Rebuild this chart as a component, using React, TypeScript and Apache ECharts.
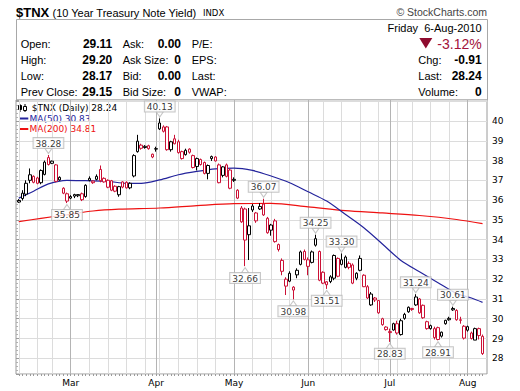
import React, { useEffect, useRef } from "react";
import * as echarts from "echarts";

// Trading days shown (month/day, 2010)
const dates = [
  "2/8","2/9","2/10","2/11","2/12","2/16","2/17","2/18","2/19","2/22","2/23","2/24","2/25","2/26",
  "3/1","3/2","3/3","3/4","3/5","3/8","3/9","3/10","3/11","3/12","3/15","3/16","3/17","3/18","3/19","3/22","3/23","3/24","3/25","3/26","3/29","3/30","3/31",
  "4/1","4/5","4/6","4/7","4/8","4/9","4/12","4/13","4/14","4/15","4/16","4/19","4/20","4/21","4/22","4/23","4/26","4/27","4/28","4/29","4/30",
  "5/3","5/4","5/5","5/6","5/7","5/10","5/11","5/12","5/13","5/14","5/17","5/18","5/19","5/20","5/21","5/24","5/25","5/26","5/27","5/28",
  "6/1","6/2","6/3","6/4","6/7","6/8","6/9","6/10","6/11","6/14","6/15","6/16","6/17","6/18","6/21","6/22","6/23","6/24","6/25","6/28","6/29","6/30",
  "7/1","7/2","7/6","7/7","7/8","7/9","7/12","7/13","7/14","7/15","7/16","7/19","7/20","7/21","7/22","7/23","7/26","7/27","7/28","7/29","7/30",
  "8/2","8/3","8/4","8/5","8/6",
];

const opens = [
  35.98,36.08,36.30,37.00,37.20,37.12,36.88,37.30,38.15,37.86,37.78,37.15,36.60,36.32,
  36.10,36.28,36.22,36.32,36.18,37.10,36.88,37.20,37.55,37.10,37.00,36.98,36.70,36.27,36.92,36.90,36.62,37.22,38.45,38.78,38.72,38.75,38.18,
  38.60,39.60,39.48,39.70,38.55,39.10,38.95,38.45,38.30,38.58,38.25,37.70,38.05,37.90,37.35,38.10,37.98,37.78,37.25,37.78,37.52,
  37.05,36.50,35.60,35.55,34.70,35.50,34.95,35.55,35.80,35.08,34.48,34.95,33.75,32.95,31.65,31.90,31.45,32.45,32.75,33.40,
  32.65,32.85,34.05,33.40,32.35,31.87,32.12,32.05,33.05,32.98,32.60,32.60,32.72,32.05,33.05,32.20,31.62,30.70,31.05,30.92,30.00,29.58,
  29.35,29.43,29.75,29.20,30.02,30.35,30.52,30.70,31.00,30.68,29.85,29.50,29.05,29.55,29.12,29.75,29.95,30.52,30.42,29.95,29.62,
  29.42,29.28,28.92,29.50,29.11,
];
const highs = [
  36.05,36.50,37.00,37.60,37.25,37.18,37.55,38.00,38.28,38.00,37.82,37.20,36.65,36.38,
  36.25,36.32,36.30,36.38,36.80,37.20,37.00,37.30,37.75,37.15,37.05,37.02,36.75,36.72,36.95,36.95,36.90,38.32,39.30,38.85,38.78,38.80,38.35,
  38.70,40.13,39.78,39.75,39.00,39.30,39.05,38.50,38.60,38.62,38.30,38.15,38.10,37.95,37.80,38.25,38.22,37.85,37.72,37.85,37.60,
  37.15,36.55,35.70,35.62,35.60,35.80,35.40,35.85,36.07,35.15,34.80,35.05,33.80,33.05,32.10,32.40,31.65,32.55,33.45,33.50,
  33.10,33.45,34.25,33.45,32.40,31.90,32.20,33.25,33.10,33.30,33.20,32.90,32.80,32.35,33.20,32.25,31.70,31.35,31.10,30.95,30.05,29.62,
  29.50,29.80,29.90,30.00,30.30,30.62,30.55,31.24,31.05,30.72,29.90,29.70,29.60,29.60,29.35,29.95,30.10,30.61,30.48,30.10,29.68,
  29.65,29.35,29.55,29.55,29.20,
];
const lows = [
  35.86,35.98,36.20,36.85,36.85,36.80,36.80,37.25,37.75,37.82,36.90,36.98,36.30,35.85,
  36.05,36.10,36.15,35.95,36.12,36.95,36.82,37.00,36.90,36.88,36.60,36.45,36.40,36.17,36.60,36.58,36.55,37.15,38.40,38.55,38.60,38.55,38.12,
  38.45,39.55,39.42,38.50,38.45,38.82,38.35,38.05,38.25,38.35,37.60,37.50,37.75,37.30,37.05,37.98,37.95,36.85,37.15,37.15,36.55,
  36.92,36.05,34.85,32.66,32.97,35.40,34.85,35.50,35.20,34.30,34.20,33.85,33.40,32.20,31.20,31.85,30.98,32.05,32.70,32.95,
  32.20,32.80,33.65,31.90,31.75,31.51,31.80,31.95,32.10,32.70,32.55,32.50,31.75,31.95,32.40,31.60,31.00,30.65,30.85,30.25,29.65,29.40,
  28.83,29.40,29.20,29.15,29.95,30.30,30.40,30.65,30.25,30.00,29.45,29.45,28.95,28.91,29.05,29.70,29.90,30.40,29.90,29.75,28.95,
  29.35,28.95,28.92,28.95,28.17,
];
const closes = [
  35.90,36.35,36.85,37.28,36.90,36.85,37.50,37.92,37.80,37.97,36.95,37.02,36.35,35.95,
  36.18,36.20,36.28,36.02,36.75,37.00,36.96,37.05,36.98,36.92,36.65,36.50,36.45,36.68,36.66,36.62,36.85,38.25,38.98,38.62,38.66,38.60,38.32,
  38.58,39.90,39.70,38.55,38.95,38.85,38.40,38.10,38.52,38.42,37.65,38.10,37.80,37.35,37.75,38.20,38.18,36.88,37.68,37.20,36.60,
  37.00,36.10,34.90,33.98,34.25,35.70,35.35,35.68,35.25,34.35,34.74,33.90,33.50,32.40,32.00,32.30,31.60,32.22,33.38,33.00,
  32.98,33.38,33.72,31.95,31.80,31.72,31.88,33.20,32.15,32.75,33.12,32.80,31.80,32.30,32.45,31.62,31.05,31.25,30.95,30.30,29.70,29.45,
  29.30,29.75,29.28,29.90,30.22,30.58,30.47,31.10,30.30,30.05,29.50,29.65,29.50,28.95,29.32,29.92,30.02,30.45,29.95,29.92,29.02,
  29.60,29.00,29.50,29.15,28.24,
];

// Moving averages at sample dates
const ma50Dates = ["2/8","2/12","2/19","2/26","3/5","3/15","3/22","3/26","4/5","4/12","4/19","4/26","5/3","5/10","5/17","5/24","6/1","6/8","6/15","6/22","6/29","7/7","7/14","7/21","7/28","8/3","8/6"];
const ma50Values = [36.10,36.45,36.82,37.00,36.98,36.95,36.85,36.85,37.02,37.28,37.45,37.58,37.62,37.50,37.22,36.88,36.42,35.95,35.28,34.60,33.78,32.95,32.38,31.82,31.28,31.05,30.83];
const ma200Dates = ["2/8","2/17","2/26","3/9","3/18","4/5","4/19","5/3","5/17","6/1","6/15","6/29","7/14","7/28","8/6"];
const ma200Values = [34.91,35.08,35.26,35.45,35.54,35.60,35.72,35.82,35.83,35.66,35.47,35.35,35.22,35.02,34.81];

// Annotated swing highs / lows
const peakDates = ["2/19","2/26","4/5","5/6","5/13","5/25","6/3","6/8","6/14","7/1","7/13","7/21","7/27"];
const peakValues = [38.28,35.85,40.13,32.66,36.07,30.98,34.25,31.51,33.30,28.83,31.24,28.91,30.61];
const peakSides = ["top","bottom","top","bottom","top","bottom","top","bottom","top","bottom","top","bottom","top"];

// Header quote panel
const quoteLabels1 = ["Open:", "High:", "Low:", "Prev Close:"];
const quoteValues1 = ["29.11", "29.20", "28.17", "29.15"];
const quoteLabels2 = ["Ask:", "Ask Size:", "Bid:", "Bid Size:"];
const quoteValues2 = ["0.00", "0", "0.00", "0"];
const quoteLabels3 = ["P/E:", "EPS:", "Last:", "VWAP:"];
const quoteLabelsR = ["Chg:", "Last:", "Volume:"];
const quoteValuesR = ["-0.91", "28.24", "0"];

const monthNames = ["Jan","Feb","Mar","Apr","May","Jun","Jul","Aug","Sep","Oct","Nov","Dec"];

const RED = "#cc1136";
const BLACK = "#000000";
const BLUE = "#24249c";
const MA_RED = "#ee1111";
const SANS = "Liberation Sans, Arial, sans-serif";
const DJV = "DejaVu Sans, Verdana, sans-serif";

const parsed = dates.map((s) => {
  const [m, d] = s.split("/").map(Number);
  return new Date(2010, m - 1, d);
});
const weekStart = parsed.map((dt, i) => i === 0 || dt.getDay() <= parsed[i - 1].getDay());
const monthStart = parsed.map((dt, i) => i > 0 && dt.getMonth() !== parsed[i - 1].getMonth());

const candleData = dates.map((_, i) => {
  const prev = i > 0 ? closes[i - 1] : closes[i];
  const col = closes[i] >= prev ? BLACK : RED;
  return {
    value: [opens[i], closes[i], lows[i], highs[i]],
    itemStyle: { color: "#ffffff", color0: col, borderColor: col, borderColor0: col, borderWidth: 1 },
  };
});

const peakData = peakDates.map((d, k) => {
  const top = peakSides[k] === "top";
  return {
    value: [d, peakValues[k]],
    symbolRotate: top ? 180 : 0,
    symbolOffset: top ? [0, -4] : [0, 4],
    label: { position: top ? "top" : "bottom" },
  };
});

function txt(x: number, y: number, text: string, font: string, fill = "#000", align = "left") {
  return {
    type: "text",
    x,
    y,
    silent: true,
    style: { text, font, fill, align, verticalAlign: "middle", textAlign: align, textVerticalAlign: "middle" },
  };
}

const rowsY = [43.6, 60.2, 76.3, 92.3];
const LBL = `11px ${SANS}`;
const VAL = `bold 12px ${SANS}`;

const graphics: any[] = [
  txt(16, 12.5, "$TNX", `bold 13px ${SANS}`),
  txt(52.5, 12.5, "(10 Year Treasury Note Yield)", `11px ${SANS}`),
  txt(203, 12.8, "INDX", `8.5px ${DJV}`),
  txt(487, 12.3, "\u00A9 StockCharts.com", `10.5px ${SANS}`, "#444", "right"),
  {
    type: "rect",
    silent: true,
    shape: { x: 16.5, y: 19.5, width: 471, height: 80.5 },
    style: { fill: "none", stroke: "#a8a8a8", lineWidth: 1 },
  },
  txt(481.7, 28.4, "Friday  6-Aug-2010", LBL, "#000", "right"),
  {
    type: "polygon",
    silent: true,
    shape: { points: [[419.3, 38], [432.3, 38], [425.8, 48.6]] },
    style: { fill: "#8e0b2e" },
  },
  txt(481.7, 44, "-3.12%", `14px ${SANS}`, "#a3123a", "right"),
  // legend inside plot
  { type: "line", silent: true, shape: { x1: 20, y1: 104, x2: 20, y2: 112 }, style: { stroke: "#000", lineWidth: 1 } },
  { type: "rect", silent: true, shape: { x: 18.5, y: 105.5, width: 3, height: 4 }, style: { fill: "#000", stroke: "#000", lineWidth: 1 } },
  { type: "line", silent: true, shape: { x1: 25, y1: 104, x2: 25, y2: 112 }, style: { stroke: "#000", lineWidth: 1 } },
  { type: "rect", silent: true, shape: { x: 23.5, y: 106.5, width: 3, height: 4 }, style: { fill: "#fff", stroke: "#000", lineWidth: 1 } },
  txt(31.7, 108.3, "$TNX (Daily) 28.24", `9px ${DJV}`),
  { type: "line", silent: true, shape: { x1: 19, y1: 118.5, x2: 28.3, y2: 118.5 }, style: { stroke: BLUE, lineWidth: 2 } },
  txt(29.5, 118.5, "MA(50) 30.83", `9px ${DJV}`, BLUE),
  { type: "line", silent: true, shape: { x1: 19, y1: 129, x2: 28.3, y2: 129 }, style: { stroke: MA_RED, lineWidth: 2 } },
  txt(29.5, 129, "MA(200) 34.81", `9px ${DJV}`, MA_RED),
];
rowsY.forEach((y, r) => {
  graphics.push(txt(20.7, y, quoteLabels1[r], LBL));
  graphics.push(txt(112.3, y, quoteValues1[r], VAL, "#000", "right"));
  graphics.push(txt(122.7, y, quoteLabels2[r], LBL));
  graphics.push(txt(181, y, quoteValues2[r], VAL, "#000", "right"));
  graphics.push(txt(191.7, y, quoteLabels3[r], LBL));
});
quoteLabelsR.forEach((l, r) => {
  graphics.push(txt(418.3, rowsY[r + 1], l, LBL));
  graphics.push(txt(481.7, rowsY[r + 1], quoteValuesR[r], VAL, "#000", "right"));
});

const Y_MIN = 27.206;
const Y_MAX = 41.062;

const option: any = {
  animation: false,
  backgroundColor: "#ffffff",
  grid: [
    { left: 16.9, top: 100, width: 467.5, height: 274 },
    { left: 16, top: 100, width: 471, height: 274, show: true, borderColor: "#9a9a9a", borderWidth: 1, backgroundColor: "transparent" },
  ],
  xAxis: [
    {
      type: "category",
      gridIndex: 0,
      data: dates,
      boundaryGap: true,
      position: "bottom",
      axisLine: { show: false },
      axisTick: { show: true, interval: 0, alignWithLabel: true, length: 2, lineStyle: { color: "#9a9a9a" } },
      axisLabel: { show: false },
      splitLine: {
        show: true,
        interval: (i: number) => weekStart[i],
        alignWithLabel: true,
        lineStyle: { color: "#dcdcdc", width: 1 },
      },
    },
    {
      type: "category",
      gridIndex: 0,
      data: dates,
      boundaryGap: true,
      position: "bottom",
      axisLine: { show: false },
      axisTick: { show: false },
      axisLabel: {
        show: true,
        interval: (i: number) => monthStart[i],
        formatter: (v: string) => monthNames[Number(v.split("/")[0]) - 1],
        margin: 4,
        fontSize: 9,
        fontFamily: DJV,
        color: "#000",
      },
      splitLine: {
        show: true,
        interval: (i: number) => monthStart[i],
        alignWithLabel: true,
        lineStyle: { color: "#b4b4b4", width: 1 },
      },
    },
    { type: "value", gridIndex: 1, show: false, min: 0, max: 1 },
  ],
  yAxis: [
    { type: "value", gridIndex: 0, min: Y_MIN, max: Y_MAX, show: false, splitLine: { show: false } },
    {
      type: "value",
      gridIndex: 1,
      min: Y_MIN,
      max: Y_MAX,
      splitNumber: 14,
      position: "right",
      axisLine: { show: false },
      axisTick: { show: true, length: 3, lineStyle: { color: "#9a9a9a" } },
      minorTick: { show: true, splitNumber: 5, length: 2, lineStyle: { color: "#b0b0b0" } },
      minorSplitLine: { show: false },
      axisLabel: {
        margin: 5,
        fontSize: 9,
        fontFamily: DJV,
        color: "#000",
        showMinLabel: false,
        showMaxLabel: false,
        formatter: (v: number) => (Math.abs(v - Math.round(v)) < 1e-6 && v >= 28 && v <= 40 ? String(Math.round(v)) : ""),
      },
      splitLine: { show: true, lineStyle: { color: "#dcdcdc", width: 1 } },
    },
  ],
  series: [
    {
      type: "line",
      name: "MA(200)",
      xAxisIndex: 0,
      yAxisIndex: 0,
      data: ma200Dates.map((d, k) => [d, ma200Values[k]]),
      showSymbol: false,
      symbol: "none",
      connectNulls: true,
      smooth: 0.3,
      lineStyle: { color: MA_RED, width: 1.2 },
      z: 2,
      silent: true,
    },
    {
      type: "line",
      name: "MA(50)",
      xAxisIndex: 0,
      yAxisIndex: 0,
      data: ma50Dates.map((d, k) => [d, ma50Values[k]]),
      showSymbol: false,
      symbol: "none",
      connectNulls: true,
      smooth: 0.3,
      lineStyle: { color: BLUE, width: 1.2 },
      z: 2,
      silent: true,
    },
    {
      type: "candlestick",
      name: "$TNX",
      xAxisIndex: 0,
      yAxisIndex: 0,
      barWidth: 3,
      data: candleData,
      z: 3,
      silent: true,
    },
    {
      type: "scatter",
      xAxisIndex: 0,
      yAxisIndex: 0,
      data: peakData,
      symbol: "triangle",
      symbolSize: [7, 5],
      itemStyle: { color: "#ffffff", borderColor: "#b8b8b8", borderWidth: 1 },
      label: {
        show: true,
        formatter: (p: any) => Number(p.value[1]).toFixed(2),
        distance: 0,
        fontSize: 9,
        fontFamily: DJV,
        color: "#000",
        backgroundColor: "#ffffff",
        borderColor: "#b8b8b8",
        borderWidth: 1,
        padding: [1, 2, 0, 2],
        lineHeight: 9,
      },
      z: 5,
      silent: true,
    },
  ],
  graphic: graphics,
};

export default function App() {
  const ref = useRef<HTMLDivElement>(null);
  useEffect(() => {
    const chart = echarts.init(ref.current as HTMLDivElement, null, { renderer: "svg" });
    chart.setOption(option);
    return () => chart.dispose();
  }, []);
  return (
    <div
      ref={ref}
      style={{ position: "fixed", left: 0, top: 0, width: 520, height: 391, background: "#fff" }}
    />
  );
}
